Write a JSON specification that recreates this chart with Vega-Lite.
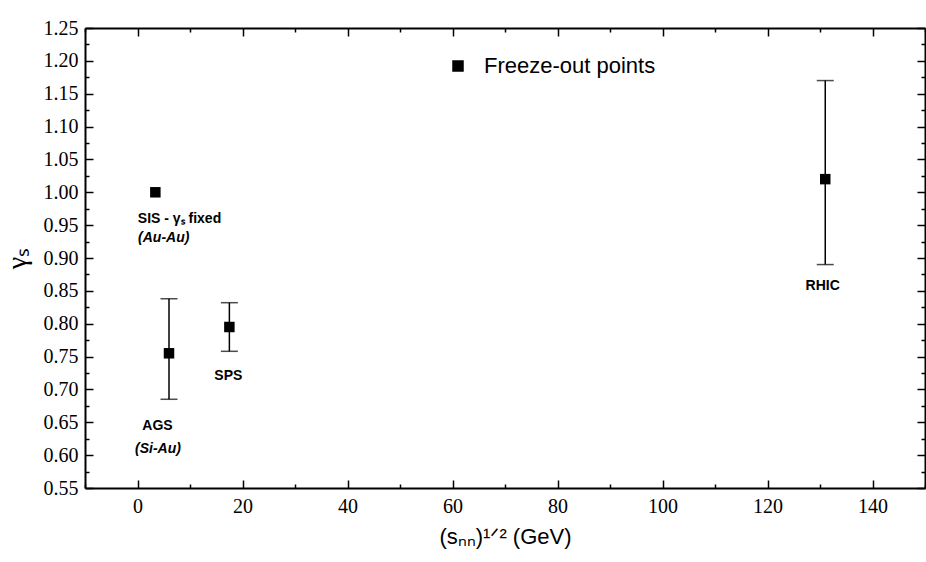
{
  "$schema": "https://vega.github.io/schema/vega-lite/v6.json",
  "width": 840,
  "height": 460,
  "autosize": {"type": "none"},
  "padding": {"left": 85, "top": 28, "right": 1, "bottom": 74},
  "background": "white",
  "config": {"view": {"stroke": null}, "font": "Liberation Sans"},
  "datasets": {
    "points": [
      {"system": "SIS", "x": 3.4, "y": 1.0},
      {"system": "AGS", "x": 6.0, "y": 0.755, "lo": 0.685, "hi": 0.838},
      {"system": "SPS", "x": 17.5, "y": 0.795, "lo": 0.758, "hi": 0.832},
      {"system": "RHIC", "x": 131, "y": 1.02, "lo": 0.89, "hi": 1.17}
    ],
    "labels": [
      {"x": 8.0, "y": 0.96, "text": "SIS - γₛ fixed"},
      {"x": 3.8, "y": 0.645, "text": "AGS"},
      {"x": 17.3, "y": 0.72, "text": "SPS"},
      {"x": 130.5, "y": 0.857, "text": "RHIC"}
    ],
    "italicLabels": [
      {"x": 5.0, "y": 0.93, "text": "(Au-Au)"},
      {"x": 3.9, "y": 0.61, "text": "(Si-Au)"}
    ]
  },
  "layer": [
    {
      "data": {"name": "points"},
      "transform": [{"filter": "isValid(datum.lo)"}],
      "mark": {"type": "rule", "color": "black", "strokeWidth": 1.5},
      "encoding": {
        "x": {"field": "x", "type": "quantitative", "scale": {"domain": [-10, 150], "nice": false, "zero": false}, "axis": null},
        "y": {"field": "lo", "type": "quantitative", "scale": {"domain": [0.55, 1.25], "nice": false, "zero": false}, "axis": null},
        "y2": {"field": "hi"}
      }
    },
    {
      "data": {"name": "points"},
      "transform": [{"filter": "isValid(datum.lo)"}],
      "mark": {"type": "tick", "orient": "horizontal", "size": 17, "thickness": 1.5, "color": "black"},
      "encoding": {
        "x": {"field": "x", "type": "quantitative", "axis": null},
        "y": {"field": "lo", "type": "quantitative", "axis": null}
      }
    },
    {
      "data": {"name": "points"},
      "transform": [{"filter": "isValid(datum.hi)"}],
      "mark": {"type": "tick", "orient": "horizontal", "size": 17, "thickness": 1.5, "color": "black"},
      "encoding": {
        "x": {"field": "x", "type": "quantitative", "axis": null},
        "y": {"field": "hi", "type": "quantitative", "axis": null}
      }
    },
    {
      "data": {"name": "points"},
      "mark": {"type": "point", "shape": "square", "filled": true, "size": 110, "opacity": 1},
      "encoding": {
        "x": {
          "field": "x", "type": "quantitative",
          "axis": {
            "orient": "bottom",
            "values": [-10, 0, 10, 20, 30, 40, 50, 60, 70, 80, 90, 100, 110, 120, 130, 140, 150],
            "labelExpr": "datum.value % 20 === 0 ? datum.label : ''",
            "labelOverlap": false,
            "tickSize": {"condition": {"test": "datum.value % 20 === 0", "value": -8}, "value": -4},
            "tickWidth": 1.5, "tickColor": "black",
            "domainWidth": 2, "domainColor": "black",
            "labelFont": "Liberation Serif", "labelFontSize": 20, "labelColor": "black", "labelPadding": 16,
            "grid": false,
            "title": "(sₙₙ)¹ᐟ² (GeV)",
            "titleFont": "Liberation Sans", "titleFontSize": 22, "titleFontWeight": "normal", "titleColor": "black", "titlePadding": 6
          }
        },
        "y": {
          "field": "y", "type": "quantitative",
          "axis": {
            "orient": "left",
            "values": [0.55, 0.575, 0.6, 0.625, 0.65, 0.675, 0.7, 0.725, 0.75, 0.775, 0.8, 0.825, 0.85, 0.875, 0.9, 0.925, 0.95, 0.975, 1.0, 1.025, 1.05, 1.075, 1.1, 1.125, 1.15, 1.175, 1.2, 1.225, 1.25],
            "labelExpr": "round(datum.value * 40) % 2 === 0 ? format(datum.value, '.2f') : ''",
            "labelOverlap": false,
            "tickSize": {"condition": {"test": "round(datum.value * 40) % 2 === 0", "value": -8}, "value": -4},
            "tickWidth": 1.5, "tickColor": "black",
            "domainWidth": 2, "domainColor": "black",
            "labelFont": "Liberation Serif", "labelFontSize": 20, "labelColor": "black", "labelPadding": 15,
            "grid": false,
            "title": "γₛ",
            "titleFont": "Liberation Serif", "titleFontSize": 28, "titleFontWeight": "normal", "titleColor": "black", "titlePadding": 12
          }
        },
        "color": {
          "datum": "Freeze-out points",
          "scale": {"range": ["black"]},
          "legend": {
            "orient": "none", "legendX": 362, "legendY": 27, "title": null,
            "symbolType": "square", "symbolSize": 100, "symbolFillColor": "black", "symbolStrokeColor": "black",
            "labelFont": "Liberation Sans", "labelFontSize": 22, "labelColor": "black", "labelOffset": 15, "labelLimit": 400
          }
        }
      }
    },
    {
      "data": {"name": "labels"},
      "mark": {"type": "text", "font": "Liberation Sans", "fontWeight": "bold", "fontSize": 14, "align": "center", "baseline": "middle", "color": "black"},
      "encoding": {
        "x": {"field": "x", "type": "quantitative", "axis": null},
        "y": {"field": "y", "type": "quantitative", "axis": null},
        "text": {"field": "text"}
      }
    },
    {
      "data": {"name": "italicLabels"},
      "mark": {"type": "text", "font": "Liberation Sans", "fontWeight": "bold", "fontStyle": "italic", "fontSize": 14, "align": "center", "baseline": "middle", "color": "black"},
      "encoding": {
        "x": {"field": "x", "type": "quantitative", "axis": null},
        "y": {"field": "y", "type": "quantitative", "axis": null},
        "text": {"field": "text"}
      }
    },
    {
      "data": {"name": "points"},
      "mark": {"type": "point", "opacity": 0},
      "encoding": {
        "x": {
          "field": "x", "type": "quantitative",
          "axis": {
            "orient": "top",
            "values": [-10, 0, 10, 20, 30, 40, 50, 60, 70, 80, 90, 100, 110, 120, 130, 140, 150],
            "labels": false, "title": null, "grid": false,
            "tickSize": {"condition": {"test": "datum.value % 20 === 0", "value": -8}, "value": -4},
            "tickWidth": 1.5, "tickColor": "black",
            "domainWidth": 2, "domainColor": "black"
          }
        },
        "y": {
          "field": "y", "type": "quantitative",
          "axis": {
            "orient": "right",
            "values": [0.55, 0.575, 0.6, 0.625, 0.65, 0.675, 0.7, 0.725, 0.75, 0.775, 0.8, 0.825, 0.85, 0.875, 0.9, 0.925, 0.95, 0.975, 1.0, 1.025, 1.05, 1.075, 1.1, 1.125, 1.15, 1.175, 1.2, 1.225, 1.25],
            "labels": false, "title": null, "grid": false,
            "tickSize": {"condition": {"test": "round(datum.value * 40) % 2 === 0", "value": -8}, "value": -4},
            "tickWidth": 1.5, "tickColor": "black",
            "domainWidth": 2, "domainColor": "black"
          }
        }
      }
    }
  ],
  "resolve": {"axis": {"x": "independent", "y": "independent"}}
}
